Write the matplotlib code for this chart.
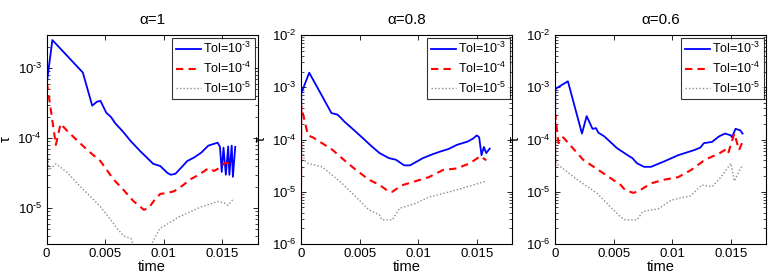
import matplotlib
matplotlib.use("Agg")
import matplotlib.pyplot as plt
from matplotlib.ticker import FuncFormatter, NullFormatter
import numpy as np

plt.rcParams['font.family'] = ['Liberation Sans', 'DejaVu Sans']
plt.rcParams['mathtext.fontset'] = 'custom'
plt.rcParams['mathtext.rm'] = 'Liberation Sans'
plt.rcParams['mathtext.it'] = 'Liberation Sans'

titles = ["α=1", "α=0.8", "α=0.6"]
labels = [r"Tol=$10^{\text{-3}}$", r"Tol=$10^{\text{-4}}$", r"Tol=$10^{\text{-5}}$"]
xticks = [0, 0.005, 0.01, 0.015]
xticklabels = ["0", "0.005", "0.01", "0.015"]

# ---- alpha = 1 ----
a1_tol3_t = [0, 0.00002, 0.0005, 0.0031, 0.0039, 0.0043, 0.0046, 0.0051, 0.0055, 0.0059, 0.0065,
             0.0072, 0.0080, 0.0086, 0.0091, 0.0097, 0.0103, 0.0106, 0.0110, 0.0115, 0.0120, 0.0126,
             0.0132, 0.0138, 0.0142, 0.0146, 0.0148, 0.01495, 0.0151, 0.0153, 0.0155, 0.0156,
             0.0158, 0.0159, 0.0161]
a1_tol3_v = [2e-6, 6e-4, 2.5e-3, 8.6e-4, 2.9e-4, 3.3e-4, 3.4e-4, 2.3e-4, 2.0e-4, 1.6e-4, 1.25e-4,
             9e-5, 6.5e-5, 5.2e-5, 4.3e-5, 4e-5, 3.2e-5, 3e-5, 3.1e-5, 3.8e-5, 4.7e-5, 5.3e-5,
             6.2e-5, 7.8e-5, 8.2e-5, 8.6e-5, 7.5e-5, 3.3e-5, 7.3e-5, 3.0e-5, 7.6e-5, 3.0e-5,
             7.8e-5, 2.8e-5, 7.5e-5]
a1_tol4_t = [0, 0.00003, 0.0008, 0.0012, 0.0018, 0.0026, 0.0036, 0.0046, 0.0057, 0.0066, 0.0074,
             0.0080, 0.0083, 0.0087, 0.0092, 0.0097, 0.0103, 0.0109, 0.0116, 0.0123, 0.0130,
             0.0138, 0.0143, 0.0148, 0.0152, 0.0155, 0.0157]
a1_tol4_v = [2e-6, 6.2e-4, 8e-5, 1.6e-4, 1.25e-4, 9.3e-5, 6.5e-5, 4.7e-5, 2.6e-5, 1.8e-5, 1.27e-5,
             1.05e-5, 9.5e-6, 1e-5, 1.3e-5, 1.6e-5, 1.65e-5, 1.75e-5, 2.1e-5, 2.6e-5, 3e-5,
             3.7e-5, 3.4e-5, 3.8e-5, 4.4e-5, 4.4e-5, 4.4e-5]
a1_tol5_t = [0, 0.00002, 0.0002, 0.0008, 0.0018, 0.0028, 0.0037, 0.0046, 0.0053, 0.0060, 0.0066,
             0.0072, 0.0076, 0.0087, 0.0092, 0.0097, 0.0105, 0.0112, 0.0120, 0.0132, 0.0140,
             0.0146, 0.0151, 0.0155, 0.0160]
a1_tol5_v = [2e-6, 1e-4, 3.5e-5, 4.3e-5, 3.2e-5, 2.1e-5, 1.5e-5, 1.05e-5, 7.5e-6, 5.2e-6, 4e-6,
             3.7e-6, 2.5e-6, 2.5e-6, 3.7e-6, 5.2e-6, 6.2e-6, 7.4e-6, 8.5e-6, 1.05e-5, 1.15e-5,
             1.25e-5, 1.2e-5, 1.1e-5, 1.4e-5]

# ---- alpha = 0.8 ----
a2_tol3_t = [0, 0.00002, 0.0007, 0.0026, 0.0031, 0.0034, 0.0037, 0.0044, 0.0052, 0.0060, 0.0067,
             0.0075, 0.0081, 0.0088, 0.0093, 0.0098, 0.0104, 0.0112, 0.0119, 0.0126, 0.0133,
             0.0142, 0.0147, 0.0150, 0.0152, 0.0154, 0.0156, 0.0158, 0.0161]
a2_tol3_v = [7e-6, 7.6e-4, 1.9e-3, 3.2e-4, 3.0e-4, 2.6e-4, 2.2e-4, 1.6e-4, 1.1e-4, 7.5e-5, 5.5e-5,
             4.4e-5, 4.1e-5, 3.2e-5, 3.2e-5, 3.7e-5, 4.4e-5, 5.2e-5, 5.9e-5, 6.6e-5, 7.9e-5,
             9.1e-5, 1.05e-4, 1.2e-4, 1.1e-4, 5e-5, 7.2e-5, 5.5e-5, 6.7e-5]
a2_tol4_t = [0, 0.00002, 0.0006, 0.001, 0.0018, 0.0027, 0.0037, 0.0047, 0.0058, 0.0067, 0.0075,
             0.0078, 0.0083, 0.0087, 0.0098, 0.0109, 0.0121, 0.0127, 0.0133, 0.0144, 0.0153, 0.0158]
a2_tol4_v = [4e-6, 4.3e-4, 1.2e-4, 1.1e-4, 8.5e-5, 6.3e-5, 4e-5, 2.6e-5, 1.7e-5, 1.35e-5, 1e-5,
             1e-5, 1.2e-5, 1.35e-5, 1.6e-5, 1.9e-5, 2.6e-5, 2.7e-5, 2.8e-5, 3.5e-5, 4.8e-5, 4e-5]
a2_tol5_t = [0, 0.00002, 0.0003, 0.0006, 0.0018, 0.0035, 0.0047, 0.0058, 0.0067, 0.0069, 0.0078,
             0.0084, 0.0098, 0.0109, 0.0127, 0.0142, 0.0158]
a2_tol5_v = [3e-6, 7.3e-5, 4e-5, 3.5e-5, 3e-5, 1.45e-5, 7.9e-6, 4.5e-6, 3.6e-6, 2.9e-6, 2.9e-6,
             4.8e-6, 6e-6, 7.9e-6, 1e-5, 1.25e-5, 1.6e-5]

# ---- alpha = 0.6 ----
a3_tol3_t = [0, 0.00002, 0.0001, 0.0011, 0.0023, 0.0027, 0.0032, 0.0035, 0.0037, 0.0042, 0.0053,
             0.0062, 0.0066, 0.0070, 0.0076, 0.0082, 0.0093, 0.0105, 0.0119, 0.0124, 0.0127,
             0.0134, 0.0140, 0.0145, 0.0150, 0.0151, 0.0154, 0.0158, 0.0160]
a3_tol3_v = [1e-5, 9e-4, 9.5e-4, 1.3e-3, 1.3e-4, 2.8e-4, 1.6e-4, 1.65e-4, 1.35e-4, 1.15e-4, 6.8e-5,
             5e-5, 4.4e-5, 3.5e-5, 3e-5, 3e-5, 3.8e-5, 5e-5, 6.3e-5, 7e-5, 8.5e-5,
             9e-5, 1.15e-4, 1.3e-4, 1.2e-4, 1.1e-4, 1.6e-4, 1.5e-4, 1.3e-4]
a3_tol4_t = [0, 0.00002, 0.0003, 0.0007, 0.0024, 0.0042, 0.0056, 0.0060, 0.0067, 0.0072, 0.0082,
             0.0093, 0.0105, 0.0116, 0.0128, 0.0140, 0.0147, 0.0148, 0.0153, 0.0157, 0.0160]
a3_tol4_v = [1e-5, 3e-4, 8.5e-5, 1.1e-4, 4.1e-5, 2.2e-5, 1.35e-5, 1.07e-5, 9.5e-6, 1.05e-5, 1.45e-5,
             1.7e-5, 1.9e-5, 2.6e-5, 4.1e-5, 5.4e-5, 6.7e-5, 5.7e-5, 1.3e-4, 6.3e-5, 9e-5]
a3_tol5_t = [0, 0.00002, 0.0001, 0.0019, 0.0036, 0.0047, 0.0056, 0.0060, 0.0070, 0.0075, 0.0088,
             0.0099, 0.0116, 0.0125, 0.0134, 0.0142, 0.0150, 0.0153, 0.0155, 0.0160]
a3_tol5_v = [3e-6, 7.2e-5, 3.5e-5, 1.7e-5, 9.3e-6, 5.2e-6, 3.3e-6, 2.9e-6, 2.9e-6, 4.2e-6, 4.7e-6,
             6.9e-6, 8.4e-6, 1.35e-5, 1.25e-5, 1.95e-5, 3.5e-5, 1.6e-5, 2e-5, 3.3e-5]

panels = [
    [(a1_tol3_t, a1_tol3_v), (a1_tol4_t, a1_tol4_v), (a1_tol5_t, a1_tol5_v)],
    [(a2_tol3_t, a2_tol3_v), (a2_tol4_t, a2_tol4_v), (a2_tol5_t, a2_tol5_v)],
    [(a3_tol3_t, a3_tol3_v), (a3_tol4_t, a3_tol4_v), (a3_tol5_t, a3_tol5_v)],
]
ylims = [(10 ** -5.51, 10 ** -2.53), (1e-6, 1e-2), (1e-6, 1e-2)]

styles = [
    dict(color=(0, 0, 1), linestyle='-', linewidth=1.3),
    dict(color=(1, 0, 0), linestyle=(0, (3.5, 2.5)), linewidth=1.5),
    dict(color=(0.55, 0.55, 0.55), linestyle=(0, (1, 1.5)), linewidth=1.0),
]


def log_fmt(v, pos):
    e = int(round(np.log10(v)))
    return r"$10^{\text{%d}}$" % e


W, H = 771, 280
fig = plt.figure(figsize=(W / 100, H / 100), dpi=100)
lefts = [46.5, 301, 555]
aw, ah = 211, 209
bottom = 280 - 244

for i in range(3):
    ax = fig.add_axes([lefts[i] / W, bottom / H, aw / W, ah / H])
    for (t, v), st, lab in zip(panels[i], styles, labels):
        ax.plot(t, v, label=lab, **st)
    ax.set_yscale('log')
    ax.set_xlim(0, 0.018)
    ax.set_ylim(*ylims[i])
    ax.yaxis.set_major_formatter(FuncFormatter(log_fmt))
    ax.yaxis.set_minor_formatter(NullFormatter())
    ax.set_xticks(xticks)
    ax.set_xticklabels(xticklabels)
    ax.tick_params(which='both', direction='in', top=True, right=True)
    ax.tick_params(axis='x', labelsize=9.5)
    ax.tick_params(axis='y', labelsize=9.5)
    ax.tick_params(which='major', length=3.5, width=0.6, pad=3)
    ax.tick_params(which='minor', length=2, width=0.5)
    for sp in ax.spines.values():
        sp.set_linewidth(0.8)
    ax.set_title(titles[i], fontsize=11, pad=8)
    ax.set_xlabel("time", fontsize=10.5, labelpad=0)
    ax.set_ylabel("τ", fontsize=10.5)
    ax.yaxis.set_label_coords(-0.158, 0.5)
    leg = ax.legend(loc='upper right', fontsize=9, frameon=True, fancybox=False,
                    borderaxespad=0.2, handlelength=2.0, handletextpad=0.15,
                    labelspacing=0.35, borderpad=0.3)
    leg.get_frame().set_edgecolor('black')
    leg.get_frame().set_linewidth(0.8)

fig.savefig("out.png", dpi=100)
